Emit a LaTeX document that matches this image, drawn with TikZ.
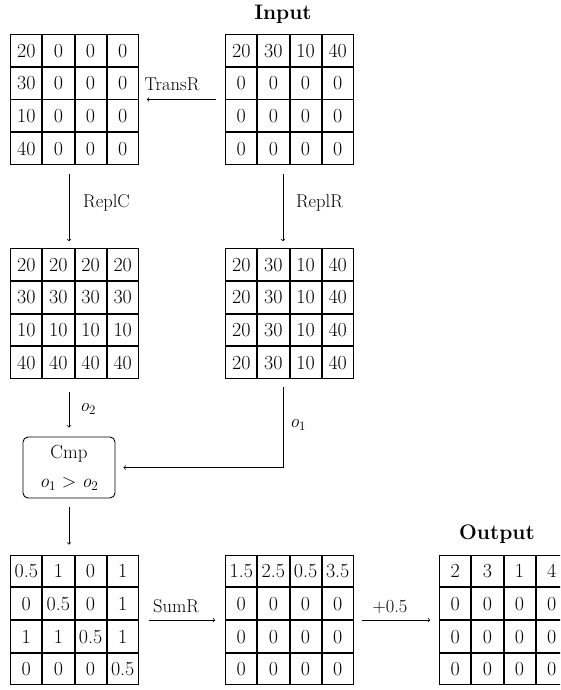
\documentclass[tikz,border=0pt]{standalone}
\usepackage{fontspec}
\usetikzlibrary{matrix}
\newcommand{\ovar}[1]{\textit{o}\textsubscript{#1}}
\begin{document}
\begin{tikzpicture}[x=1pt,y=-1pt,
  cell/.style={draw, line width=0.9pt, minimum width=31.25pt, minimum height=31.75pt,
    inner sep=0pt, outer sep=0pt, anchor=center, text height=13.5pt, text depth=0pt,
    font=\fontsize{20}{22}\selectfont},
  grid/.style={matrix of nodes, nodes={cell}, column sep=0pt, row sep=0pt,
    inner sep=0pt, outer sep=0pt},
  lbl/.style={font=\fontsize{18.5}{22}\selectfont, inner sep=0pt},
  ttl/.style={font=\fontsize{21}{24}\selectfont\bfseries, inner sep=0pt},
  arr/.style={->, line width=0.7pt},
  cmpbox/.style={draw, line width=0.9pt, rounded corners=5pt, minimum width=92pt,
    minimum height=61pt, align=center, inner sep=2pt, font=\fontsize{19}{29}\selectfont}
  ]
\clip (0,0) rectangle (560,690);

\matrix (tl) [grid] at (74.5,99.5) {
20 & 0 & 0 & 0\\
30 & 0 & 0 & 0\\
10 & 0 & 0 & 0\\
40 & 0 & 0 & 0\\};
\matrix (in) [grid] at (289.5,99.5) {
20 & 30 & 10 & 40\\
0 & 0 & 0 & 0\\
0 & 0 & 0 & 0\\
0 & 0 & 0 & 0\\};
\matrix (ml) [grid] at (74.5,313.5) {
20 & 20 & 20 & 20\\
30 & 30 & 30 & 30\\
10 & 10 & 10 & 10\\
40 & 40 & 40 & 40\\};
\matrix (mr) [grid] at (289.5,313.5) {
20 & 30 & 10 & 40\\
20 & 30 & 10 & 40\\
20 & 30 & 10 & 40\\
20 & 30 & 10 & 40\\};
\matrix (bl) [grid] at (74.5,620) {
0.5 & 1 & 0 & 1\\
0 & 0.5 & 0 & 1\\
1 & 1 & 0.5 & 1\\
0 & 0 & 0 & 0.5\\};
\matrix (bm) [grid] at (289.5,620) {
1.5 & 2.5 & 0.5 & 3.5\\
0 & 0 & 0 & 0\\
0 & 0 & 0 & 0\\
0 & 0 & 0 & 0\\};
\matrix (out) [grid] at (503.5,620) {
2 & 3 & 1 & 4\\
0 & 0 & 0 & 0\\
0 & 0 & 0 & 0\\
0 & 0 & 0 & 0\\};

\node[cmpbox] (cmp) at (69,467.5) {Cmp\\\ovar{1} > \ovar{2}};

\node[ttl] (tin) at (283,14) {Input};
\node[ttl] (tout) at (497,534) {Output};

\node[lbl] (ltr) at (172,84) {TransR};
\node[lbl] (lrc) at (106.5,203) {ReplC};
\node[lbl] (lrr) at (319.5,203) {ReplR};
\node[lbl] (lo2) at (88,409) {\ovar{2}};
\node[lbl] (lo1) at (298,425) {\ovar{1}};
\node[lbl] (lsr) at (176,606) {SumR};
\node[lbl] (lpl) at (390,607) {+0.5};

\draw[arr] ([xshift=-9pt]in.west) -- ([xshift=8pt]tl.east);
\draw[arr] ([xshift=-5.5pt,yshift=-9pt]tl.south) -- ([xshift=-5.5pt,yshift=7pt]ml.north);
\draw[arr] ([xshift=-6.5pt,yshift=-9pt]in.south) -- ([xshift=-6.5pt,yshift=7pt]mr.north);
\draw[arr] ([xshift=-5.5pt,yshift=-13pt]ml.south) -- ([yshift=9pt]cmp.north);
\draw[arr] ([xshift=-6.5pt,yshift=-8pt]mr.south) |- ([xshift=8pt]cmp.east);
\draw[arr] ([yshift=-9pt]cmp.south) -- ([xshift=-5.5pt,yshift=10pt]bl.north);
\draw[arr] ([xshift=10pt]bl.east) -- ([xshift=-10pt]bm.west);
\draw[arr] ([xshift=8pt]bm.east) -- ([xshift=-9pt]out.west);
\end{tikzpicture}
\end{document}
